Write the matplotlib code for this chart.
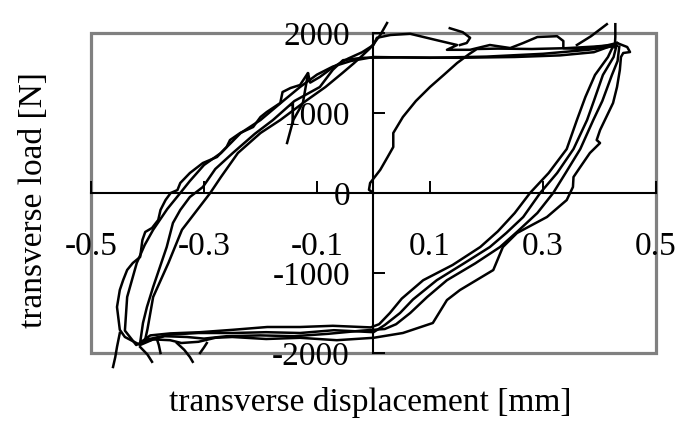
import numpy as np
import matplotlib
matplotlib.use("Agg")
import matplotlib.pyplot as plt
from matplotlib.patches import Rectangle

plt.rcParams['font.family'] = ['Liberation Serif', 'DejaVu Serif']

# Values (displacement mm, load N)
load_path = [(0.0, 0), (-0.008, 40), (-0.006, 125), (0.012, 290), (0.025, 450), (0.035, 575),
             (0.035, 750), (0.052, 950), (0.075, 1150), (0.100, 1325), (0.125, 1480),
             (0.148, 1625), (0.170, 1740), (0.183, 1800), (0.22, 1805), (0.28, 1800),
             (0.34, 1810), (0.39, 1830), (0.425, 1850)]

cycle_a = [(0.425, 1850), (0.415, 1700), (0.392, 1475), (0.375, 1200), (0.36, 912), (0.342, 550),
           (0.31, 250), (0.277, 0), (0.25, -250), (0.22, -480), (0.189, -675), (0.14, -900),
           (0.088, -1090), (0.05, -1320), (0.029, -1500), (0.01, -1640), (-0.005, -1680),
           (-0.072, -1660), (-0.13, -1675), (-0.188, -1675), (-0.249, -1710), (-0.307, -1740),
           (-0.36, -1755), (-0.395, -1780), (-0.413, -1870), (-0.408, -1625), (-0.401, -1425),
           (-0.39, -1175), (-0.378, -925), (-0.366, -675), (-0.355, -375), (-0.342, -212),
           (-0.325, -50), (-0.302, 75), (-0.28, 300), (-0.249, 500), (-0.21, 740), (-0.178, 912),
           (-0.14, 1150), (-0.095, 1325), (-0.072, 1540), (-0.054, 1660), (-0.02, 1690),
           (0.05, 1695), (0.15, 1690), (0.25, 1700), (0.33, 1720), (0.39, 1760), (0.425, 1850)]

cycle_b = [(0.43, 1840), (0.425, 1700), (0.406, 1475), (0.39, 1150), (0.378, 912), (0.354, 550),
           (0.325, 250), (0.295, 0), (0.265, -300), (0.235, -500), (0.206, -675), (0.16, -880),
           (0.112, -1090), (0.07, -1330), (0.047, -1500), (0.02, -1650), (0.0, -1740),
           (-0.07, -1715), (-0.13, -1750), (-0.19, -1740), (-0.25, -1750), (-0.31, -1750),
           (-0.36, -1770), (-0.40, -1830), (-0.42, -1900), (-0.44, -1720), (-0.436, -1300),
           (-0.419, -875), (-0.405, -650), (-0.39, -460), (-0.365, -200), (-0.342, 0),
           (-0.325, 150), (-0.30, 350), (-0.27, 500), (-0.235, 750), (-0.20, 912), (-0.16, 1150),
           (-0.13, 1325), (-0.10, 1480), (-0.072, 1580), (-0.04, 1650), (0.0, 1700), (0.1, 1690),
           (0.2, 1705), (0.3, 1740), (0.38, 1790), (0.43, 1840)]

cycle_c = [(0.431, 1875), (0.449, 1825), (0.454, 1762), (0.442, 1750), (0.438, 1700),
           (0.436, 1537), (0.431, 1325), (0.424, 1125), (0.401, 787), (0.395, 662), (0.401, 625),
           (0.383, 500), (0.366, 325), (0.354, 200), (0.353, 75), (0.342, -88), (0.307, -300),
           (0.254, -500), (0.229, -675), (0.212, -963), (0.153, -1213), (0.130, -1338),
           (0.105, -1625), (0.052, -1750), (0.0, -1810), (-0.065, -1840), (-0.13, -1810),
           (-0.19, -1825), (-0.25, -1800), (-0.28, -1810), (-0.31, -1860), (-0.34, -1875),
           (-0.36, -1840), (-0.39, -1830), (-0.413, -1900), (-0.44, -1800), (-0.449, -1710),
           (-0.454, -1425), (-0.449, -1212), (-0.443, -1087), (-0.436, -962), (-0.426, -875),
           (-0.413, -800), (-0.409, -587), (-0.404, -487), (-0.392, -437), (-0.381, -337),
           (-0.377, -212), (-0.368, -87), (-0.359, 0), (-0.347, 37), (-0.342, 125),
           (-0.325, 250), (-0.302, 375), (-0.277, 450), (-0.260, 575), (-0.254, 662),
           (-0.236, 750), (-0.213, 825), (-0.200, 950), (-0.189, 1012), (-0.165, 1125),
           (-0.161, 1262), (-0.147, 1312), (-0.13, 1350), (-0.116, 1500), (-0.112, 1380),
           (-0.095, 1450), (-0.07, 1580), (-0.045, 1680), (-0.02, 1760), (0.0, 1850),
           (0.006, 1940), (0.03, 1975), (0.065, 1990), (0.112, 1910), (0.148, 1850),
           (0.13, 1790), (0.171, 1790), (0.206, 1850), (0.242, 1812), (0.265, 1875),
           (0.29, 1950), (0.325, 1960), (0.336, 1900), (0.336, 1810), (0.37, 1800),
           (0.41, 1840), (0.431, 1875)]

cycle_d = [(0.435, 1830), (0.432, 1650), (0.422, 1475), (0.405, 1150), (0.389, 912), (0.366, 550),
           (0.34, 250), (0.318, 0), (0.29, -250), (0.255, -480), (0.224, -675), (0.18, -880),
           (0.13, -1090), (0.095, -1300), (0.065, -1500), (0.04, -1640), (0.02, -1700),
           (-0.02, -1720), (-0.08, -1760), (-0.14, -1790), (-0.20, -1780), (-0.26, -1790),
           (-0.30, -1820), (-0.33, -1800), (-0.37, -1790), (-0.405, -1860), (-0.40, -1700),
           (-0.39, -1300), (-0.363, -875), (-0.339, -460), (-0.289, 0), (-0.27, 200),
           (-0.24, 500), (-0.20, 750), (-0.165, 912), (-0.12, 1150), (-0.085, 1325),
           (-0.055, 1500), (-0.035, 1620), (-0.024, 1690), (-0.006, 1810), (0.003, 1890),
           (0.012, 1975), (0.02, 2075), (0.024, 2125)]

# short strokes sticking out of the loops
strokes = [
    [(-0.461, -2175), (-0.457, -2050), (-0.454, -1925), (-0.449, -1750)],
    [(-0.413, -1925), (-0.40, -2020), (-0.392, -2110)],
    [(-0.384, -1812), (-0.380, -1900), (-0.377, -2000)],
    [(-0.348, -1875), (-0.335, -1960), (-0.325, -2050), (-0.320, -2110)],
    [(-0.307, -2000), (-0.300, -1930), (-0.295, -1875)],
    [(-0.153, 625), (-0.142, 912), (-0.125, 1125), (-0.116, 1490)],
    [(0.135, 2060), (0.158, 2010), (0.171, 1940), (0.165, 1875), (0.153, 1850)],
    [(0.36, 1850), (0.385, 1960), (0.413, 2110)],
    [(0.427, 1820), (0.428, 1950), (0.428, 2110)],
]

x_ticks = [-0.5, -0.3, -0.1, 0.1, 0.3, 0.5]
x_tick_labels = ['-0.5', '-0.3', '-0.1', '0.1', '0.3', '0.5']
y_ticks = [-2000, -1000, 0, 1000, 2000]
y_tick_labels = ['-2000', '-1000', '0', '1000', '2000']

fig = plt.figure(figsize=(6.89, 4.46), dpi=100)
ax = fig.add_axes([91/689, 1 - 353/446, 565/689, 320/446])

for c in [load_path, cycle_a, cycle_b, cycle_c, cycle_d] + strokes:
    c = np.array(c)
    ax.plot(c[:, 0], c[:, 1], color='black', lw=1.8, clip_on=False, zorder=3)

ax.set_xlim(-0.5, 0.5)
ax.set_ylim(-2000, 2000)

# axes crossing at the origin, gray frame around the plot
ax.spines['left'].set_position(('data', 0))
ax.spines['bottom'].set_position(('data', 0))
ax.spines['top'].set_visible(False)
ax.spines['right'].set_visible(False)
for s in ['left', 'bottom']:
    ax.spines[s].set_linewidth(1.5)
    ax.spines[s].set_zorder(2)
ax.add_patch(Rectangle((0, 0), 1, 1, transform=ax.transAxes, fill=False,
                       ec='#808080', lw=2.3, clip_on=False, zorder=1))

ax.set_xticks(x_ticks)
ax.set_xticklabels(x_tick_labels)
ax.set_yticks(y_ticks)
ax.set_yticklabels(y_tick_labels)
ax.tick_params(direction='in', length=8.5, width=1.4, labelsize=24)
ax.tick_params(axis='x', pad=28)
ax.tick_params(axis='y', pad=17)

fig.text(34/689, 1 - 200/446, 'transverse load [N]', rotation=90,
         ha='center', va='center', fontsize=24)
fig.text(370/689, 1 - 402/446, 'transverse displacement [mm]',
         ha='center', va='center', fontsize=24)

fig.savefig('out.png', dpi=100)
